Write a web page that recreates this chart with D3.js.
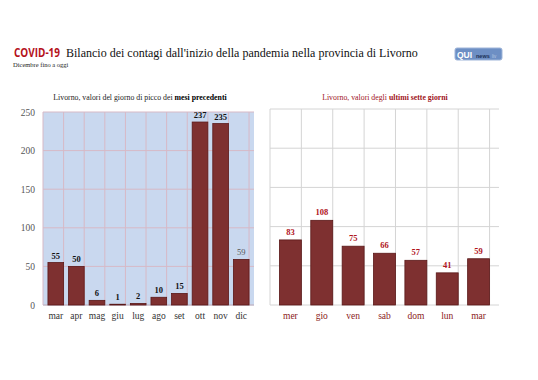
<!DOCTYPE html>
<html>
<head>
<meta charset="utf-8">
<script src="https://cdn.jsdelivr.net/npm/d3@7"></script>
<style>
  body { margin: 0; background: #fff; }
  svg { display: block; }
</style>
</head>
<body>
<svg width="538" height="380"></svg>
<script>
// Data
const months = ["mar", "apr", "mag", "giu", "lug", "ago", "set", "ott", "nov", "dic"];
const monthValues = [55, 50, 6, 1, 2, 10, 15, 237, 235, 59];
const days = ["mer", "gio", "ven", "sab", "dom", "lun", "mar"];
const dayValues = [83, 108, 75, 66, 57, 41, 59];
const yTicks = [0, 50, 100, 150, 200, 250];

const svg = d3.select("svg");
const serif = "'Liberation Serif', 'DejaVu Serif', serif";
const barFill = "#7e3030";
const barStroke = "#5a1818";

// Title
svg.append("text")
  .attr("x", 14)
  .attr("y", 57)
  .attr("textLength", 46)
  .attr("lengthAdjust", "spacingAndGlyphs")
  .text("COVID-19")
  .style("font-family", "'Open Sans', sans-serif")
  .style("font-weight", "bold")
  .style("font-size", "12.5px")
  .style("fill", "#b5121b");
svg.append("text")
  .attr("x", 66)
  .attr("y", 57)
  .text("Bilancio dei contagi dall'inizio della pandemia nella provincia di Livorno")
  .style("font-family", serif)
  .style("font-size", "12px")
  .style("fill", "#111");

svg.append("text")
  .attr("x", 13)
  .attr("y", 67)
  .text("Dicembre fino a oggi")
  .style("font-family", serif)
  .style("font-size", "6.5px")
  .style("fill", "#222");

// Logo
const logo = svg.append("g").attr("transform", "translate(455,48)");
logo.append("rect")
  .attr("width", 47).attr("height", 12).attr("rx", 2)
  .attr("fill", "#6d8fc4")
  .attr("stroke", "#9fb5d9");
logo.append("text")
  .attr("x", 2).attr("y", 9.5)
  .text("QUI")
  .style("font-family", "'Liberation Sans', sans-serif")
  .style("font-weight", "bold")
  .style("font-size", "8.5px")
  .style("fill", "#fff");
logo.append("text")
  .attr("x", 21).attr("y", 9.5)
  .text("news")
  .style("font-family", "'Liberation Sans', sans-serif")
  .style("font-weight", "bold")
  .style("font-size", "5.5px")
  .style("fill", "#1d2f55");
logo.append("text")
  .attr("x", 37).attr("y", 9.5)
  .text("liv")
  .style("font-family", "'Liberation Sans', sans-serif")
  .style("font-size", "4.5px")
  .style("fill", "#b7c7e2");

// ---------- Left chart ----------
const x1 = d3.scaleBand().domain(months).range([43, 254]).padding(0.24);
const y1 = d3.scaleLinear().domain([0, 250]).range([305, 112]);

const left = svg.append("g");
left.append("rect")
  .attr("x", 43).attr("y", y1(250))
  .attr("width", 254 - 43).attr("height", y1(0) - y1(250))
  .attr("fill", "#c9d8ef");

// horizontal grid
left.selectAll(".hg")
  .data(yTicks)
  .join("line")
  .attr("x1", 43).attr("x2", 254)
  .attr("y1", d => y1(d)).attr("y2", d => y1(d))
  .attr("stroke", "#d7b9c6")
  .attr("stroke-width", 1);

// vertical grid at category boundaries
left.selectAll(".vg")
  .data(d3.range(months.length + 1))
  .join("line")
  .attr("x1", i => 43 + i * x1.step()).attr("x2", i => 43 + i * x1.step())
  .attr("y1", y1(250)).attr("y2", y1(0))
  .attr("stroke", "#d7b9c6");

left.append("line")
  .attr("x1", 43).attr("x2", 254)
  .attr("y1", y1(0)).attr("y2", y1(0))
  .attr("stroke", "#b9b9c9");

left.selectAll(".bar")
  .data(monthValues)
  .join("rect")
  .attr("x", (d, i) => x1(months[i]))
  .attr("y", d => y1(d))
  .attr("width", x1.bandwidth())
  .attr("height", d => y1(0) - y1(d))
  .attr("fill", barFill)
  .attr("stroke", barStroke)
  .attr("stroke-width", 0.8);

left.selectAll(".val")
  .data(monthValues)
  .join("text")
  .attr("x", (d, i) => x1(months[i]) + x1.bandwidth() / 2)
  .attr("y", d => y1(d) - 4)
  .attr("text-anchor", "middle")
  .text(d => d)
  .style("font-family", serif)
  .style("font-size", "8.5px")
  .style("font-weight", (d, i) => i === months.length - 1 ? "normal" : "bold")
  .style("fill", (d, i) => i === months.length - 1 ? "#555" : "#111");

const yAxis = d3.axisLeft(y1).tickValues(yTicks).tickSize(0).tickPadding(8);
left.append("g")
  .attr("transform", "translate(43,0)")
  .call(yAxis)
  .call(g => g.select(".domain").remove())
  .selectAll("text")
  .style("font-family", serif)
  .style("font-size", "9.5px")
  .style("fill", "#555");

const xAxis1 = d3.axisBottom(x1).tickSize(0).tickPadding(7);
left.append("g")
  .attr("transform", "translate(0,305)")
  .call(xAxis1)
  .call(g => g.select(".domain").remove())
  .selectAll("text")
  .style("font-family", serif)
  .style("font-size", "9.5px")
  .style("fill", "#333");

const sub1 = left.append("text")
  .attr("x", 140).attr("y", 100)
  .attr("text-anchor", "middle")
  .style("font-family", serif)
  .style("font-size", "7.8px")
  .style("fill", "#222");
sub1.append("tspan").text("Livorno, valori del giorno di picco dei ");
sub1.append("tspan").text("mesi precedenti").style("font-weight", "bold").style("fill", "#000");

// ---------- Right chart ----------
const x2 = d3.scaleBand().domain(days).range([270, 499]).padding(0.3);
const y2 = d3.scaleLinear().domain([0, 250]).range([305, 109]);

const right = svg.append("g");
right.selectAll(".hg")
  .data(yTicks)
  .join("line")
  .attr("x1", 270).attr("x2", 499)
  .attr("y1", d => y2(d)).attr("y2", d => y2(d))
  .attr("stroke", "#d4d4d4");

right.selectAll(".vg")
  .data(d3.range(days.length + 1))
  .join("line")
  .attr("x1", i => 270 + i * x2.step()).attr("x2", i => 270 + i * x2.step())
  .attr("y1", y2(250)).attr("y2", y2(0))
  .attr("stroke", "#d4d4d4");

right.selectAll(".bar")
  .data(dayValues)
  .join("rect")
  .attr("x", (d, i) => x2(days[i]))
  .attr("y", d => y2(d))
  .attr("width", x2.bandwidth())
  .attr("height", d => y2(0) - y2(d))
  .attr("fill", barFill)
  .attr("stroke", barStroke)
  .attr("stroke-width", 0.8);

right.selectAll(".val")
  .data(dayValues)
  .join("text")
  .attr("x", (d, i) => x2(days[i]) + x2.bandwidth() / 2)
  .attr("y", d => y2(d) - 5)
  .attr("text-anchor", "middle")
  .text(d => d)
  .style("font-family", serif)
  .style("font-size", "8.5px")
  .style("font-weight", "bold")
  .style("fill", "#b0141c");

const xAxis2 = d3.axisBottom(x2).tickSize(0).tickPadding(7);
right.append("g")
  .attr("transform", "translate(0,305)")
  .call(xAxis2)
  .call(g => g.select(".domain").remove())
  .selectAll("text")
  .style("font-family", serif)
  .style("font-size", "9.5px")
  .style("fill", "#8b1a1a");

const sub2 = right.append("text")
  .attr("x", 385).attr("y", 100)
  .attr("text-anchor", "middle")
  .style("font-family", serif)
  .style("font-size", "7.8px")
  .style("fill", "#a0141c");
sub2.append("tspan").text("Livorno, valori degli ");
sub2.append("tspan").text("ultimi sette giorni").style("font-weight", "bold");
</script>
</body>
</html>
